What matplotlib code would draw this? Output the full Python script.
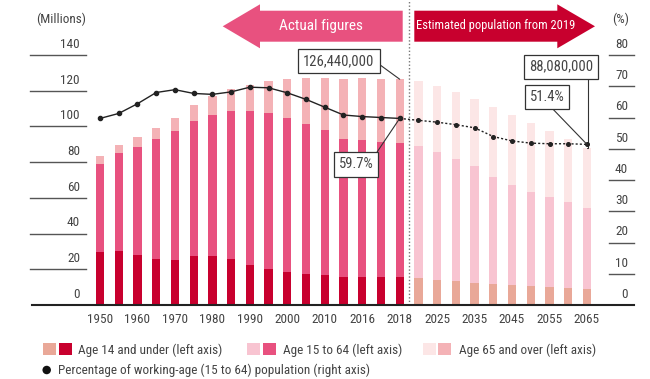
import numpy as np
import matplotlib
matplotlib.use("Agg")
import matplotlib.pyplot as plt
from matplotlib import font_manager
from matplotlib.patches import Polygon, Rectangle, Ellipse

# population by age group, millions
years = [1950, 1955, 1960, 1965, 1970, 1975, 1980, 1985, 1990, 1995, 2000,
         2005, 2010, 2015, 2016, 2017, 2018,
         2020, 2025, 2030, 2035, 2040, 2045, 2050, 2055, 2060, 2065]
age_0_14 = [29.43, 30.12, 28.07, 25.53, 25.15, 27.22, 27.51, 26.03, 22.49,
            20.01, 18.47, 17.52, 16.80, 15.89, 15.78, 15.59, 15.42,
            15.07, 14.07, 13.21, 12.46, 11.94, 11.38, 10.77, 10.24, 9.51, 8.98]
age_15_64 = [49.66, 54.73, 60.47, 67.44, 72.12, 75.81, 78.84, 82.51, 85.90,
             87.26, 86.22, 84.09, 81.03, 77.28, 76.56, 75.96, 75.45,
             74.06, 71.70, 68.75, 65.29, 59.78, 55.84, 52.75, 50.28, 47.93, 45.29]
age_65_over = [4.11, 4.75, 5.40, 6.24, 7.39, 8.87, 10.65, 12.47, 14.90,
               18.26, 22.01, 25.67, 29.25, 33.47, 34.59, 35.15, 35.57,
               36.19, 36.77, 37.16, 37.82, 39.21, 39.19, 38.41, 37.04, 35.40, 33.81]
# working-age share, %
working_pct = [59.7, 61.3, 64.4, 68.0, 68.9, 67.7, 67.4, 68.2, 69.7, 69.5,
               67.9, 65.8, 63.3, 60.8, 60.3, 60.0, 59.7,
               59.1, 58.5, 57.7, 56.7, 53.9, 52.5, 51.8, 51.6, 51.6, 51.4]
tick_years = [1950, 1960, 1970, 1980, 1990, 2000, 2010, 2016, 2018,
              2025, 2035, 2045, 2055, 2065]
left_ticks = [0, 20, 40, 60, 80, 100, 120, 140]
right_ticks = [0, 10, 20, 30, 40, 50, 60, 70, 80]
n_actual = 17  # up to 2018

RED = "#c8002e"
PINK = "#e8517f"
LPINK = "#f4b2b6"
F_RED = "#e9a898"
F_PINK = "#f8c4d1"
F_LPINK = "#fce6e6"
TXT = "#444444"

# pick a narrow face if there is one
names = set(f.name for f in font_manager.fontManager.ttflist)
FONT = "DejaVu Sans"
for cand in ["Liberation Sans Narrow", "Roboto Condensed", "DejaVu Sans Condensed"]:
    if cand in names:
        FONT = cand
        break
plt.rcParams["font.family"] = [FONT, "DejaVu Sans"]

W, H = 650, 379
fig = plt.figure(figsize=(W / 100, H / 100), dpi=100)


def fx(px):
    return px / W


def fy(py):
    return 1 - py / H


ax = fig.add_axes([fx(32), fy(305), (634 - 32) / W, 250 / H])
ax2 = ax.twinx()
AXW = 602.0

x = np.arange(len(years))
a = np.array(age_0_14)
b = np.array(age_15_64)
c = np.array(age_65_over)
bw = 0.44
act = x < n_actual
fut = ~act

ax.bar(x[act], a[act], bw, color=RED)
ax.bar(x[act], b[act], bw, bottom=a[act], color=PINK)
ax.bar(x[act], c[act], bw, bottom=a[act] + b[act], color=LPINK)
ax.bar(x[fut], a[fut], bw, color=F_RED)
ax.bar(x[fut], b[fut], bw, bottom=a[fut], color=F_PINK)
ax.bar(x[fut], c[fut], bw, bottom=a[fut] + b[fut], color=F_LPINK)

ax.set_xlim(-68 / 18.73, 534 / 18.73)
ax.set_ylim(0, 140)
ax2.set_ylim(0, 80)

# working-age share line, solid for actual, dashed for estimates
pct = np.array(working_pct)
ax2.plot(x[:n_actual], pct[:n_actual], color="#222222", lw=1, marker="o", ms=3)
ax2.plot(x[n_actual - 1:], pct[n_actual - 1:], color="#222222", lw=1,
         ls=(0, (1.5, 1.5)), marker="o", ms=2.6)

for s in ["left", "right", "top"]:
    ax.spines[s].set_visible(False)
    ax2.spines[s].set_visible(False)
ax2.spines["bottom"].set_visible(False)
ax.spines["bottom"].set_color("#222222")
ax.spines["bottom"].set_linewidth(1.5)
ax.set_yticks([])
ax2.set_yticks([])

tick_pos = [years.index(y) for y in tick_years]
ax.set_xticks(tick_pos)
ax.set_xticklabels([str(y) for y in tick_years], fontsize=9.5, color=TXT)
ax.tick_params(axis="x", length=0, pad=6)

# short tick rules with labels sitting above them
ltr = ax.get_yaxis_transform()
for v in left_ticks[1:]:
    ax.plot([-2 / AXW, 54 / AXW], [v, v], color="#555555", lw=1,
            transform=ltr, clip_on=False)
for v in left_ticks:
    ax.annotate(str(v), (48 / AXW, v), xycoords=ltr, xytext=(0, 3),
                textcoords="offset points", ha="right", va="bottom",
                fontsize=9.5, color=TXT)
rtr = ax2.get_yaxis_transform()
for v in right_ticks[1:]:
    ax2.plot([577 / AXW, 1.0], [v, v], color="#555555", lw=1,
             transform=rtr, clip_on=False)
for v in right_ticks:
    ax2.annotate(str(v), (596 / AXW, v), xycoords=rtr, xytext=(0, 3),
                 textcoords="offset points", ha="right", va="bottom",
                 fontsize=9.5, color=TXT)
fig.text(fx(61), fy(19), "(Millions)", ha="center", va="center", fontsize=9.5, color=TXT)
fig.text(fx(621), fy(19), "(%)", ha="center", va="center", fontsize=9.5, color=TXT)

# divider between actual and estimated
ax.axvline(n_actual - 0.5, ymin=0, ymax=305 / 250, color="#777777", lw=1,
           ls=(0, (1, 1.5)), clip_on=False)

# header arrows
left_arrow = [(222.7, 26.3), (260, 4.3), (260, 10.7), (402.7, 10.7),
              (402.7, 41.7), (260, 41.7), (260, 48.3)]
right_arrow = [(595, 26.3), (557.3, 4.3), (557.3, 10.7), (414.3, 10.7),
               (414.3, 41.7), (557.3, 41.7), (557.3, 48.3)]
fig.add_artist(Polygon([(fx(p), fy(q)) for p, q in left_arrow], closed=True,
                       facecolor=PINK, edgecolor="none", transform=fig.transFigure))
fig.add_artist(Polygon([(fx(p), fy(q)) for p, q in right_arrow], closed=True,
                       facecolor=RED, edgecolor="none", transform=fig.transFigure))
fig.text(fx(321), fy(26), "Actual figures", ha="center", va="center",
         fontsize=11, color="white")
fig.text(fx(496), fy(26), "Estimated population from 2019", ha="center",
         va="center", fontsize=9, color="white")

# callouts
box = dict(boxstyle="square,pad=0.35", facecolor="white", edgecolor="#333333", lw=0.9)
total_2018 = a[16] + b[16] + c[16]
total_2065 = a[-1] + b[-1] + c[-1]
ax.annotate("{:,}".format(int(round(total_2018 * 100)) * 10000), (16, total_2018),
            xytext=(339, H - 61), textcoords="figure pixels", ha="center",
            va="center", fontsize=10.5, color=TXT, bbox=box,
            arrowprops=dict(arrowstyle="-", color="#333333", lw=0.8,
                            relpos=(1, 0.5), shrinkA=0, shrinkB=0))
ax2.annotate("{:.1f}%".format(pct[16]), (16, pct[16]),
             xytext=(356, H - 164.5), textcoords="figure pixels", ha="center",
             va="center", fontsize=10.5, color=TXT, bbox=box,
             arrowprops=dict(arrowstyle="-", color="#333333", lw=0.8,
                             relpos=(1, 1), shrinkA=0, shrinkB=0))
ax2.annotate("{:.1f}%".format(pct[-1]), (26, pct[-1]),
             xytext=(547, H - 96.7), textcoords="figure pixels", ha="center",
             va="center", fontsize=10.5, color=TXT, bbox=box,
             arrowprops=dict(arrowstyle="-", color="#333333", lw=0.8,
                             relpos=(0.52, 0), shrinkA=0, shrinkB=0))
ax.annotate("{:,}".format(int(round(total_2065 * 100)) * 10000), (26, total_2065),
            xytext=(561, H - 66.7), textcoords="figure pixels", ha="center",
            va="center", fontsize=10.5, color=TXT, bbox=box,
            arrowprops=dict(arrowstyle="-", color="#333333", lw=0.8,
                            relpos=(0.92, 0), shrinkA=0, shrinkB=0,
                            connectionstyle="angle,angleA=90,angleB=0,rad=0"))


# legend, drawn by hand
def swatch(px, py, col):
    fig.add_artist(Rectangle((fx(px), fy(py + 12)), 13 / W, 12 / H,
                             facecolor=col, edgecolor="none",
                             transform=fig.transFigure))


legend_items = [(42.7, 59.3, 78, F_RED, RED, "Age 14 and under (left axis)"),
                (246.7, 263, 282.7, F_PINK, PINK, "Age 15 to 64 (left axis)"),
                (423.3, 438.3, 459.3, F_LPINK, LPINK, "Age 65 and over (left axis)")]
for p1, p2, tx, c1, c2, lab in legend_items:
    swatch(p1, 343.3, c1)
    swatch(p2, 343.3, c2)
    fig.text(fx(tx), fy(350), lab, ha="left", va="center", fontsize=9.5, color=TXT)
fig.add_artist(Ellipse((fx(46.7), fy(370)), 8.5 / W, 8.5 / H, facecolor="#111111",
                       edgecolor="none", transform=fig.transFigure))
fig.text(fx(58), fy(370), "Percentage of working-age (15 to 64) population (right axis)",
         ha="left", va="center", fontsize=9.5, color=TXT)

fig.savefig("out.png", dpi=100)
